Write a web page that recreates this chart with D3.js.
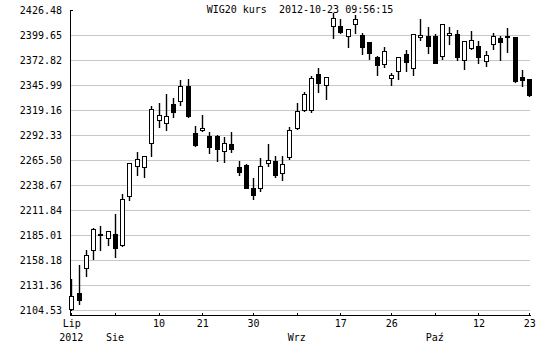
<!DOCTYPE html>
<html>
<head>
<meta charset="utf-8">
<script src="https://cdn.jsdelivr.net/npm/d3@7"></script>
<style>
  body { margin: 0; background: #fff; }
  svg { display: block; font-family: "DejaVu Sans Mono", monospace; font-size: 10px; }
</style>
</head>
<body>
<svg id="chart" width="550" height="350"></svg>
<script>
const title = 'WIG20 kurs  2012-10-23 09:56:15'

const dates = [
  '2012-07-25','2012-07-26','2012-07-27','2012-07-30','2012-07-31',
  '2012-08-01','2012-08-02','2012-08-03','2012-08-06','2012-08-07','2012-08-08','2012-08-09','2012-08-10',
  '2012-08-13','2012-08-14','2012-08-16','2012-08-17','2012-08-20','2012-08-21','2012-08-22','2012-08-23',
  '2012-08-24','2012-08-27','2012-08-28','2012-08-29','2012-08-30','2012-08-31',
  '2012-09-03','2012-09-04','2012-09-05','2012-09-06','2012-09-07','2012-09-10','2012-09-11','2012-09-12',
  '2012-09-13','2012-09-14','2012-09-17','2012-09-18','2012-09-19','2012-09-20','2012-09-21','2012-09-24',
  '2012-09-25','2012-09-26','2012-09-27','2012-09-28',
  '2012-10-01','2012-10-02','2012-10-03','2012-10-04','2012-10-05','2012-10-08','2012-10-09','2012-10-10',
  '2012-10-11','2012-10-12','2012-10-15','2012-10-16','2012-10-17','2012-10-18','2012-10-19','2012-10-22','2012-10-23'
]

const open = [
  2105.20, 2122.45, 2149.28, 2168.60, 2186.09, 2181.48, 2186.09, 2173.97, 2226.12, 2258.74,
  2257.67, 2283.43, 2308.11, 2304.89, 2325.60, 2328.07, 2344.92, 2294.16, 2296.95, 2290.94,
  2291.26, 2274.84, 2282.35, 2257.99, 2260.14, 2235.46, 2234.71, 2261.96, 2264.11, 2250.80,
  2267.97, 2299.10, 2318.84, 2318.84, 2357.80, 2345.67, 2408.56, 2409.63, 2398.26, 2411.13,
  2399.65, 2391.82, 2375.72, 2368.21, 2354.26, 2360.70, 2379.26, 2363.91, 2397.18, 2398.58,
  2398.58, 2376.79, 2399.33, 2400.72, 2372.50, 2385.38, 2387.52, 2371.00, 2389.67, 2396.43,
  2398.58, 2397.18, 2354.26, 2352.11
]
const high = [
  2137.80, 2152.82, 2168.60, 2192.21, 2195.00, 2189.50, 2207.56, 2229.02, 2262.50, 2274.09,
  2270.00, 2323.13, 2326.68, 2336.33, 2331.72, 2351.04, 2352.43, 2301.99, 2313.80, 2295.55,
  2292.00, 2290.19, 2295.55, 2264.43, 2260.90, 2245.87, 2267.65, 2282.68, 2269.48, 2269.48,
  2300.92, 2326.68, 2338.48, 2355.65, 2364.24, 2354.80, 2423.00, 2416.82, 2406.30, 2421.44,
  2401.48, 2392.30, 2377.11, 2386.45, 2358.55, 2376.20, 2383.55, 2401.00, 2416.82, 2408.56,
  2401.05, 2411.60, 2408.56, 2405.02, 2393.40, 2403.94, 2393.21, 2382.16, 2401.80, 2398.26,
  2406.84, 2397.60, 2361.77, 2352.50
]
const low = [
  2104.53, 2110.97, 2141.34, 2159.58, 2169.24, 2174.61, 2161.73, 2173.50, 2222.90, 2249.73,
  2247.26, 2270.12, 2301.24, 2298.02, 2311.97, 2324.85, 2311.66, 2280.53, 2296.50, 2273.34,
  2264.75, 2263.68, 2274.41, 2249.73, 2235.30, 2223.97, 2232.24, 2259.39, 2247.58, 2244.36,
  2266.90, 2298.50, 2318.00, 2317.55, 2338.16, 2330.65, 2396.75, 2401.48, 2386.45, 2401.48,
  2378.94, 2373.57, 2356.40, 2365.31, 2346.31, 2352.75, 2360.70, 2357.05, 2393.96, 2380.01,
  2369.50, 2374.22, 2390.31, 2373.14, 2363.49, 2384.31, 2369.92, 2366.70, 2384.95, 2373.14,
  2381.73, 2349.50, 2344.60, 2334.50
]
const close = [
  2119.23, 2115.26, 2163.23, 2191.14, 2184.70, 2188.99, 2170.75, 2223.33, 2261.96, 2266.58,
  2269.48, 2319.91, 2313.48, 2312.40, 2317.34, 2344.60, 2312.73, 2281.28, 2299.53, 2278.71,
  2277.63, 2283.43, 2276.56, 2252.95, 2235.78, 2227.62, 2258.74, 2265.51, 2248.66, 2260.89,
  2297.38, 2317.77, 2336.01, 2353.18, 2347.82, 2354.26, 2417.57, 2403.19, 2405.77, 2416.50,
  2387.09, 2380.01, 2367.13, 2382.16, 2357.05, 2375.72, 2371.00, 2400.40, 2399.65, 2388.17,
  2369.92, 2411.13, 2401.48, 2376.36, 2392.89, 2393.96, 2375.29, 2377.87, 2398.26, 2391.82,
  2397.18, 2349.96, 2350.61, 2334.94
]

const yTicks = [2104.53, 2131.36, 2158.18, 2185.01, 2211.84, 2238.67, 2265.50, 2292.33, 2319.16, 2345.99, 2372.82, 2399.65, 2426.48]

const tickDates = ['2012-07-25','2012-08-02','2012-08-10','2012-08-21','2012-08-30','2012-09-07','2012-09-17','2012-09-26','2012-10-04','2012-10-12','2012-10-23']
const tickDays = ['Lip','','10','21','30','','17','26','','12','23']
const tickMonths = ['2012','Sie','','','','Wrz','','','Paź','','']

const svg = d3.select('#chart')
const plot = {left: 70, right: 530, top: 10, bottom: 315}

const xScale = d3.scalePoint()
  .domain(dates)
  .range([71.3, 529.3])

const yScale = d3.scaleLinear()
  .domain([yTicks[0], yTicks[yTicks.length - 1]])
  .range([310, 10])

// grid lines (not on the top value)
svg.append('g')
  .selectAll('line')
  .data(yTicks.slice(0, -1))
  .enter()
  .append('line')
  .attr('x1', plot.left)
  .attr('x2', plot.right)
  .attr('y1', d => Math.round(yScale(d)) + 0.5)
  .attr('y2', d => Math.round(yScale(d)) + 0.5)
  .attr('stroke', '#c8c8c8')
  .attr('shape-rendering', 'crispEdges')

// y labels
svg.append('g')
  .attr('transform', `translate(${plot.left}, 0)`)
  .call(d3.axisLeft(yScale).tickValues(yTicks).tickSize(0).tickPadding(8).tickFormat(d3.format('.2f')))
  .call(g => g.select('.domain').remove())
  .call(g => g.selectAll('text').attr('font-family', '"DejaVu Sans Mono", monospace').attr('font-size', 10).attr('fill', '#000'))

// axis lines
svg.append('line')
  .attr('x1', plot.left + 0.5).attr('x2', plot.left + 0.5)
  .attr('y1', plot.top).attr('y2', plot.bottom)
  .attr('stroke', '#000')
  .attr('shape-rendering', 'crispEdges')
svg.append('line')
  .attr('x1', plot.left).attr('x2', plot.left + 3)
  .attr('y1', yScale(yTicks[yTicks.length - 1]) + 0.5).attr('y2', yScale(yTicks[yTicks.length - 1]) + 0.5)
  .attr('stroke', '#000')
  .attr('shape-rendering', 'crispEdges')

const xAxis = svg.append('g')
  .attr('transform', `translate(0, ${plot.bottom + 0.5})`)
  .call(d3.axisBottom(xScale)
    .tickValues(tickDates)
    .tickSizeInner(-3)
    .tickSizeOuter(0)
    .tickPadding(4)
    .tickFormat((d, i) => tickDays[i]))
xAxis.select('.domain').remove()
xAxis.selectAll('line').attr('stroke', '#000').attr('shape-rendering', 'crispEdges')
xAxis.selectAll('text').attr('font-family', '"DejaVu Sans Mono", monospace').attr('font-size', 10).attr('fill', '#000')

svg.append('line')
  .attr('x1', plot.left).attr('x2', plot.right + 1)
  .attr('y1', plot.bottom + 0.5).attr('y2', plot.bottom + 0.5)
  .attr('stroke', '#000')
  .attr('shape-rendering', 'crispEdges')

svg.append('g')
  .selectAll('text')
  .data(tickDates)
  .enter()
  .append('text')
  .attr('x', d => xScale(d))
  .attr('y', 341)
  .attr('text-anchor', 'middle')
  .text((d, i) => tickMonths[i])

// candles
const candles = svg.append('g')
  .selectAll('g')
  .data(dates)
  .enter()
  .append('g')

candles.append('line')
  .attr('x1', d => Math.round(xScale(d)) + 0.5)
  .attr('x2', d => Math.round(xScale(d)) + 0.5)
  .attr('y1', (d, i) => Math.round(yScale(high[i])))
  .attr('y2', (d, i) => Math.round(yScale(low[i])) + 1)
  .attr('stroke', '#000')
  .attr('stroke-width', 1.4)

candles.append('rect')
  .attr('x', d => Math.round(xScale(d)) - 1.5)
  .attr('width', 4)
  .attr('y', (d, i) => Math.round(yScale(Math.max(open[i], close[i]))) + 0.5)
  .attr('height', (d, i) => Math.max(1, Math.round(yScale(Math.min(open[i], close[i])) - yScale(Math.max(open[i], close[i])))))
  .attr('fill', (d, i) => close[i] >= open[i] ? '#fff' : '#000')
  .attr('stroke', '#000')
  .attr('shape-rendering', 'crispEdges')

svg.append('text')
  .attr('x', 300)
  .attr('y', 12.5)
  .attr('text-anchor', 'middle')
  .attr('xml:space', 'preserve')
  .style('white-space', 'pre')
  .text(title)
</script>
</body>
</html>
